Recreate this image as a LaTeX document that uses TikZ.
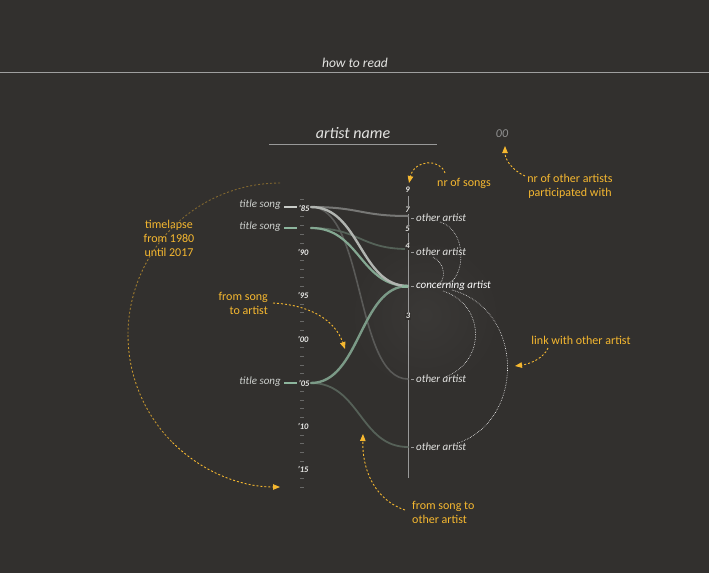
\documentclass[tikz,border=0pt]{standalone}
\usepackage{fontspec}
\setmainfont{Carlito}
\usetikzlibrary{arrows.meta}
\definecolor{bg}{HTML}{32302E}
\definecolor{gold}{HTML}{F6B830}
\definecolor{txt}{HTML}{E4E4E2}
\definecolor{lgreen}{HTML}{8DB59D}
\definecolor{dgreen}{HTML}{556258}
\definecolor{lgray}{HTML}{C9CCC8}
\definecolor{mgray}{HTML}{777775}
\definecolor{dgray}{HTML}{5A5A58}
\tikzset{
  lbl/.style={font=\fontsize{11}{13}\selectfont\itshape, text=txt, inner sep=0pt},
  songlbl/.style={font=\fontsize{11}{13}\selectfont\itshape, text=lgray!90, inner sep=0pt, anchor=east},
  yearlbl/.style={font=\fontsize{8.5}{10}\selectfont\bfseries\itshape, text=txt!85, inner sep=0pt},
  numlbl/.style={font=\fontsize{8.5}{9}\selectfont\bfseries\itshape, text=txt!85, fill=bg, inner sep=0.8pt},
  note/.style={font=\fontsize{12}{14}\selectfont, text=gold, inner sep=0pt, align=center},
  notearrow/.style={gold, line width=0.9pt, dash pattern=on 2pt off 2pt, -{Triangle[length=7pt,width=5.5pt]}},
  flow/.style={line width=#1, line cap=round},
  link/.style={white!85, line width=0.6pt, dash pattern=on 0.6pt off 1.1pt},
  tickm/.style={draw=gray!70!bg, line width=0.8pt},
  stub/.style={draw=gray!80, line width=0.6pt}
}
\begin{document}
\begin{tikzpicture}[x=1pt,y=-1pt]
\useasboundingbox (0,0) rectangle (709,573);
\fill[bg] (0,0) rectangle (709,573);
% glow
\shade[inner color=white!4!bg, outer color=bg] (425,315) circle (75);

% header
\node[lbl, font=\fontsize{13.5}{15}\selectfont\itshape] (howto) at (355,63) {how to read};
\coordinate (hl) at (0,72); \coordinate (hr) at (709,72);
\draw[gray!75, line width=1pt] (hl) -- (hr);
\node[lbl, font=\fontsize{16}{18}\selectfont\itshape] (aname) at (353,133) {artist name};
\coordinate (ul) at (269,144); \coordinate (ur) at (437,144);
\draw[gray!80, line width=0.8pt] (ul) -- (ur);
\node[font=\fontsize{12}{14}\selectfont\itshape, text=gray!85, inner sep=0pt] (nr) at (502,134) {00};

% left time axis ticks
\foreach \yr in {1984,1986,1987,1988,1989,1991,1992,1993,1994,1996,1997,1998,1999,2001,2002,2003,2004,2006,2007,2008,2009,2011,2012,2013,2014,2016,2017}{
  \pgfmathsetmacro{\yy}{208+(\yr-1985)*8.73}
  \draw[tickm] (300.3,\yy) -- (303.7,\yy);
}
\node[yearlbl] (y85) at (304,208) {’85};
\node[yearlbl] (y90) at (303,252) {’90};
\node[yearlbl] (y95) at (303,295) {’95};
\node[yearlbl] (y00) at (303,339) {’00};
\node[yearlbl] (y05) at (304,383) {’05};
\node[yearlbl] (y10) at (303,426) {’10};
\node[yearlbl] (y15) at (303,469) {’15};

% songs
\node[songlbl] (t1) at (281,205) {title song};
\node[songlbl] (t2) at (281,227) {title song};
\node[songlbl] (t3) at (281,382) {title song};
\coordinate (b1a) at (284,207); \coordinate (b1b) at (297,207);
\coordinate (b2a) at (284,228); \coordinate (b2b) at (297,228);
\coordinate (b3a) at (284,383); \coordinate (b3b) at (297,383);
\draw[lgray, line width=2.4pt] (b1a) -- (b1b);
\draw[lgreen, line width=2.4pt] (b2a) -- (b2b);
\draw[lgreen, line width=2.4pt] (b3a) -- (b3b);
\coordinate (s1) at (311,207);
\coordinate (s2) at (311,228);
\coordinate (s3) at (311,383);

% right axis
\coordinate (ax1) at (408,196); \coordinate (ax2) at (408,478);
\draw[gray!80, line width=0.8pt] (ax1) -- (ax2);
\coordinate (a1) at (408,216);
\coordinate (a2) at (408,249);
\coordinate (a3) at (408,286);
\coordinate (a4) at (408,379);
\coordinate (a5) at (408,447);

% flows
\draw[flow=1.6pt, dgray] (s1) .. controls (365,207) and (355,379) .. (a4);
\draw[flow=1.8pt, dgreen] (s2) .. controls (360,228) and (360,249) .. (a2);
\draw[flow=1.8pt, dgreen!85!dgray] (s3) .. controls (360,383) and (360,447) .. (a5);
\draw[flow=2pt, mgray] (s1) .. controls (360,207) and (360,216) .. (a1);
\draw[flow=2.4pt, lgreen!80!bg] (s3) .. controls (360,383) and (360,286) .. (a3);
\draw[flow=2.2pt, lgreen!90!bg] (s2) .. controls (360,228) and (360,286) .. (a3);
\draw[flow=2.4pt, lgray!85!bg] (s1) .. controls (360,207) and (360,286) .. (a3);
\draw[lgreen, line width=3pt] (402,286) -- (a3);

% axis numbers
\node[numlbl] (n9) at (407.5,190) {9};
\node[numlbl] (n7) at (407.5,210) {7};
\node[numlbl] (n5) at (407.5,229) {5};
\node[numlbl] (n4) at (407.5,246) {4};
\node[numlbl] (n3) at (408,316) {3};

% artist labels
\node[lbl, anchor=west] (o1) at (416,218) {other artist};
\node[lbl, anchor=west] (o2) at (416,252) {other artist};
\node[lbl, anchor=west, text=white] (ca) at (416,286) {concerning artist};
\node[lbl, anchor=west] (o4) at (416,379) {other artist};
\node[lbl, anchor=west] (o5) at (416,447) {other artist};
\foreach \n/\yy in {1/218,2/252,3/286,4/379,5/447}{
  \draw[stub] (411,\yy) -- (414,\yy);
}

% links
\coordinate (l1a) at (440,222); \coordinate (l1b) at (445,285);
\coordinate (l2a) at (433,257); \coordinate (l2b) at (438,285);
\coordinate (l3a) at (443,291); \coordinate (l3b) at (445,377);
\coordinate (l4a) at (452,290); \coordinate (l4b) at (458,443);
\draw[link] (l1a) .. controls (468,230) and (466,280) .. (l1b);
\draw[link] (l2a) .. controls (446,264) and (446,280) .. (l2b);
\draw[link] (l3a) .. controls (486,305) and (486,362) .. (l3b);
\draw[link] (l4a) .. controls (525,310) and (525,420) .. (l4b);

% annotations
\node[note] (nsongs) at (464,183) {nr of songs};
\node[note] (nother) at (570,186) {nr of other artists\\participated with};
\node[note] (tl) at (169,238) {timelapse\\from 1980\\until 2017};
\node[note, align=right, anchor=east] (fsa) at (268,303) {from song\\to artist};
\node[note] (lwo) at (581,340) {link with other artist};
\node[note, align=left, anchor=west] (fso) at (412,512) {from song to\\other artist};

\coordinate (p1s) at (445,173); \coordinate (p1e) at (409,183);
\draw[notearrow] (p1s) .. controls (440,158) and (414,160) .. (p1e);
\coordinate (p2s) at (525,176); \coordinate (p2e) at (505,146);
\draw[notearrow] (p2s) .. controls (512,170) and (505,160) .. (p2e);
\coordinate (p3s) at (273,303); \coordinate (p3e) at (345,349);
\draw[notearrow] (p3s) .. controls (310,305) and (335,320) .. (p3e);
\coordinate (p4s) at (548,348); \coordinate (p4e) at (515,366);
\draw[notearrow] (p4s) .. controls (544,358) and (530,364) .. (p4e);
\coordinate (p5s) at (405,510); \coordinate (p5e) at (363,434);
\draw[notearrow] (p5s) .. controls (375,500) and (362,470) .. (p5e);

% timelapse arc
\coordinate (tc) at (280,335);
\coordinate (ttop) at (280,183);
\draw[gold!40!bg, line width=0.9pt, dash pattern=on 2pt off 2pt] (ttop) arc[start angle=270, end angle=225, radius=152];
\draw[gold!55!bg, line width=0.9pt, dash pattern=on 2pt off 2pt] ([shift={(225:152)}]tc) arc[start angle=225, end angle=180, radius=152];
\draw[gold!75!bg, line width=0.9pt, dash pattern=on 2pt off 2pt] ([shift={(180:152)}]tc) arc[start angle=180, end angle=135, radius=152];
\draw[notearrow] ([shift={(135:152)}]tc) arc[start angle=135, end angle=90, radius=152];
\end{tikzpicture}
\end{document}
